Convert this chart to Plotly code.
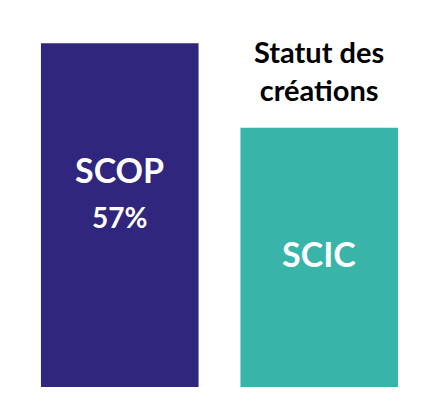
import plotly.graph_objects as go

# ---------- data ----------
categories = ["SCOP", "SCIC"]
shares = [57, 43]
colors = ["#30267e", "#38b4a9"]
title_text = "Statut des<br>créations"

FONT = "Lato"

fig = go.Figure(
    go.Bar(
        x=categories,
        y=shares,
        width=0.79,
        marker=dict(color=colors, line=dict(width=0)),
        hoverinfo="skip",
    )
)

# labels inside the bars
fig.add_annotation(x=categories[0], y=shares[0] * 0.633, text="<b>SCOP</b>",
                   showarrow=False, font=dict(family=FONT, size=34, color="white"))
fig.add_annotation(x=categories[0], y=shares[0] * 0.495, text=f"<b>{shares[0]}%</b>",
                   showarrow=False, font=dict(family=FONT, size=28, color="white"))
fig.add_annotation(x=categories[1], y=shares[1] * 0.515, text="<b>SCIC</b>",
                   showarrow=False, font=dict(family=FONT, size=34, color="white"))

# title above the second bar
fig.add_annotation(x=categories[1], y=0.835, yref="paper", text=f"<b>{title_text}</b>",
                   showarrow=False, yanchor="middle",
                   font=dict(family=FONT, size=29, color="black"))

# page body adds an 8px offset, so left/top margins are trimmed by that
fig.update_layout(
    width=440, height=403,
    margin=dict(l=12, r=29, t=0, b=24),
    paper_bgcolor="white", plot_bgcolor="white",
    showlegend=False,
    xaxis=dict(visible=False, range=[-0.5, 1.5]),
    yaxis=dict(visible=False, range=[0, 62.85]),
)

fig.write_html("out.html")
